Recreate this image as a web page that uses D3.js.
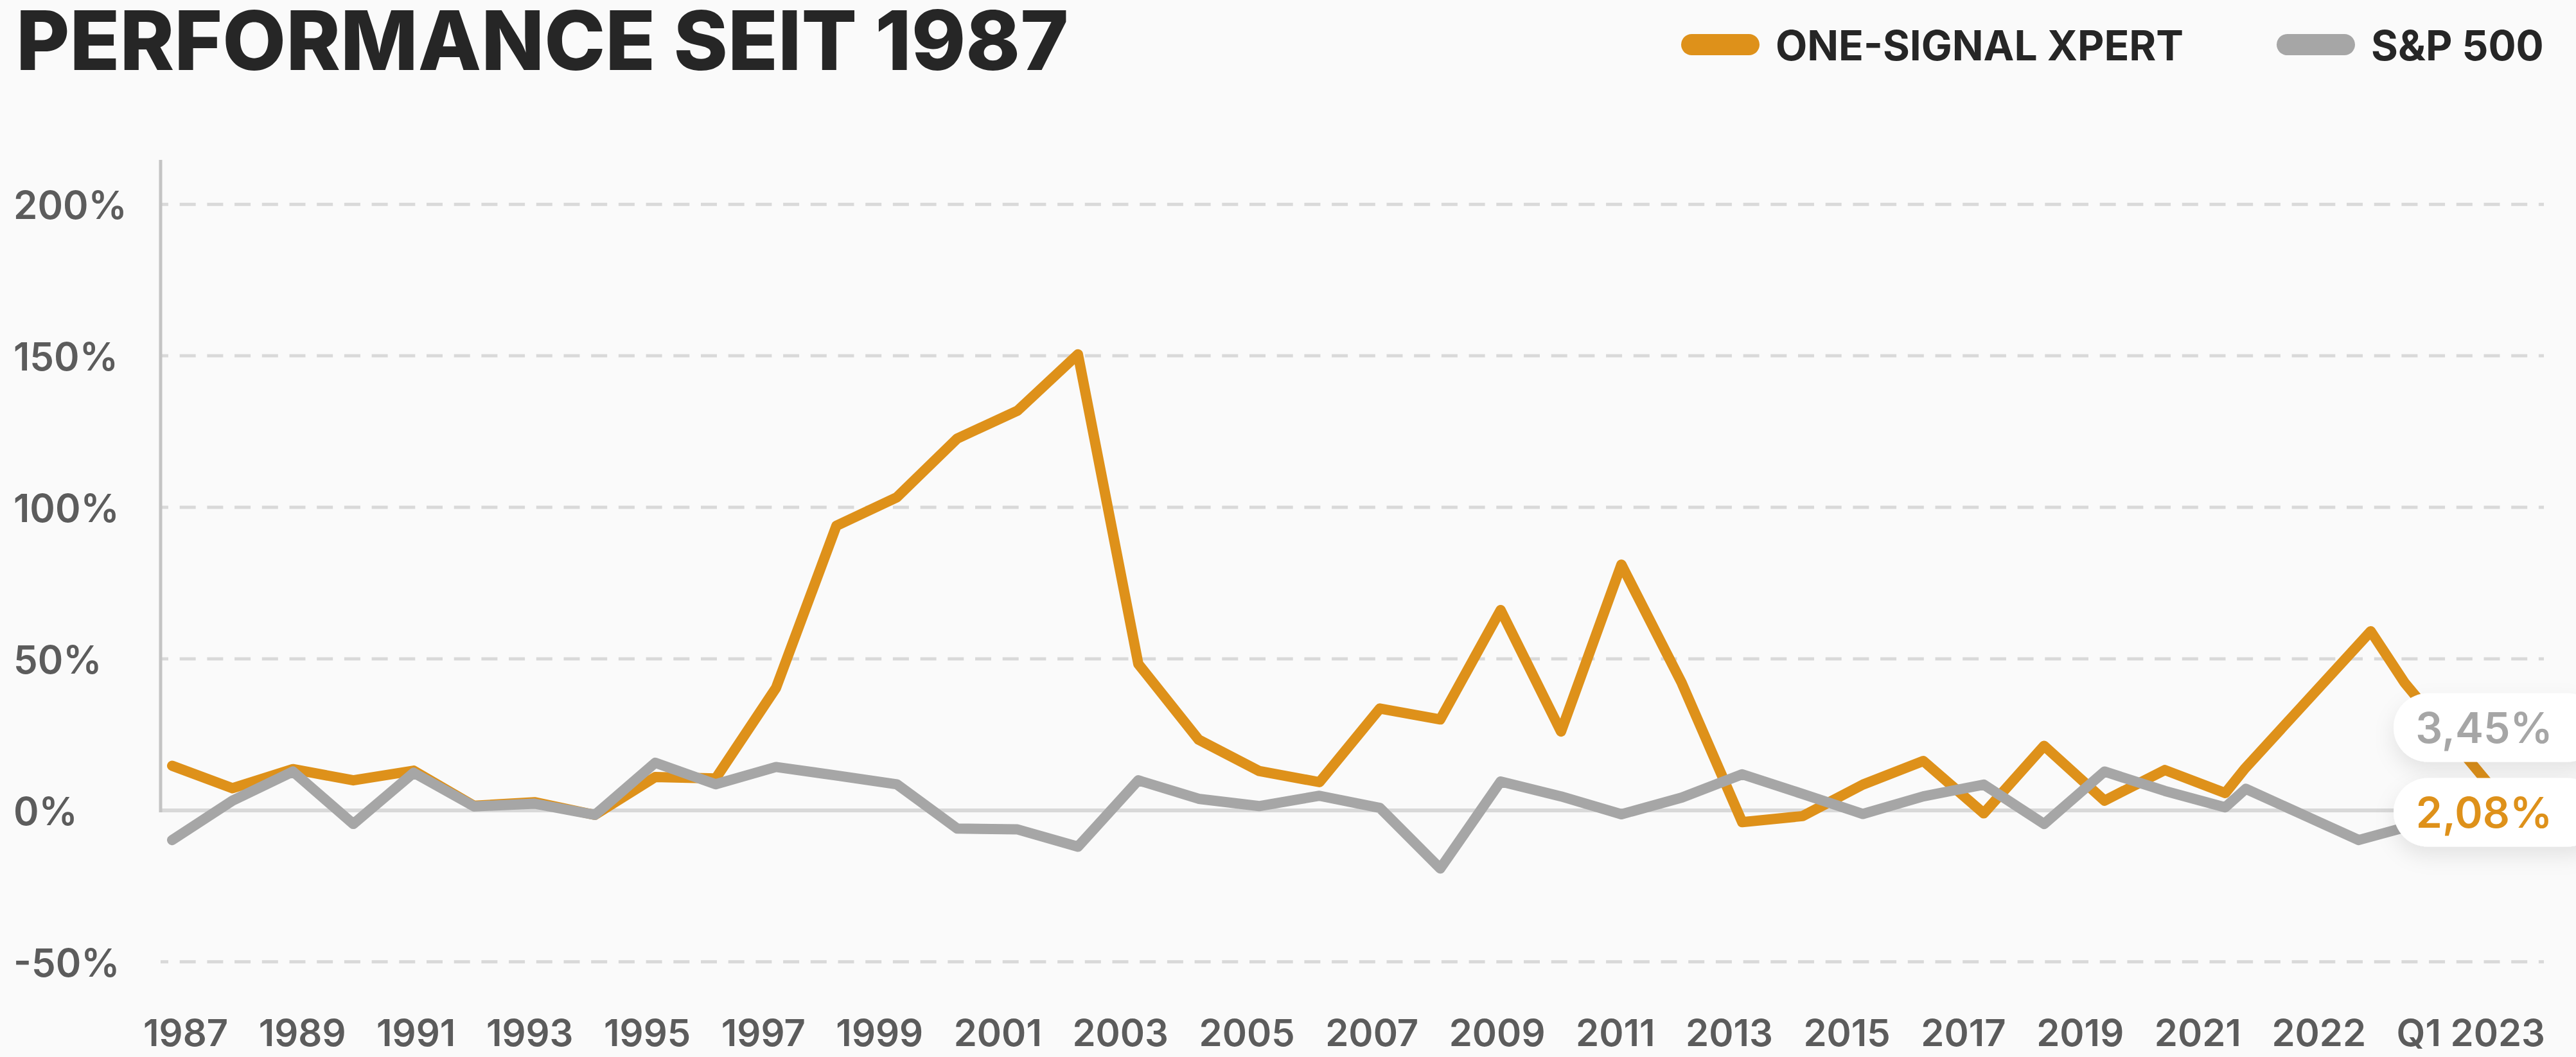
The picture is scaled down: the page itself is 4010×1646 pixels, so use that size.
<!DOCTYPE html>
<html>
<head>
<meta charset="utf-8">
<script src="https://cdn.jsdelivr.net/npm/d3@7"></script>
<style>
  html, body { margin: 0; padding: 0; background: #fafafa; }
  svg { display: block; font-family: Inter, "Noto Sans", sans-serif; }
</style>
</head>
<body>
<div id="vis"></div>
<script>
// chart data
const years = [1987, 1988, 1989, 1990, 1991, 1992, 1993, 1994, 1995, 1996,
  1997, 1998, 1999, 2000, 2001, 2002, 2003, 2004, 2005, 2006,
  2007, 2008, 2009, 2010, 2011, 2012, 2013, 2014, 2015, 2016,
  2017, 2018, 2019, 2020, 2021];

const xpert = [14.7, 7.3, 13.6, 9.9, 13.1, 1.5, 2.7, -1.5, 11.0, 10.5,
  40.4, 93.9, 103.3, 122.7, 131.9, 150.5, 48.3, 23.3, 13.0, 9.3,
  33.6, 30.0, 66.1, 26.0, 81.1, 42.0, -3.9, -1.9, 8.5, 16.3,
  -1.0, 21.3, 3.2, 13.3, 5.7];

const sp500 = [-9.8, 3.2, 12.8, -4.5, 12.4, 1.3, 2.2, -1.5, 15.7, 8.6,
  14.3, 11.5, 8.6, -6.0, -6.3, -12.0, 9.9, 3.8, 1.4, 4.8,
  0.8, -19.2, 9.5, 4.6, -1.3, 4.2, 11.9, 5.4, -1.2, 4.6,
  8.5, -4.5, 12.8, 6.4, 1.0];

// 2022 / Q1 2023 stretch (position counted in year steps after 1987)
const xpertTailPos = [34.33, 36.41, 36.97, 38.64];
const xpertTailVal = [13.9, 59.1, 42.1, 2.08];
const spTailPos = [34.34, 36.21, 38.64];
const spTailVal = [7.1, -9.8, 3.45];

const xLabels = ['1987', '1989', '1991', '1993', '1995', '1997', '1999', '2001',
  '2003', '2005', '2007', '2009', '2011', '2013', '2015', '2017', '2019',
  '2021', '2022', 'Q1 2023'];
const yTicks = [-50, 0, 50, 100, 150, 200];

const endLabels = ['3,45%', '2,08%'];
const seriesNames = ['ONE-SIGNAL XPERT', 'S&P 500'];

const width = 4010;
const height = 1646;
const orange = '#de911a';
const grey = '#a6a6a6';

const svg = d3.select('#vis').append('svg')
  .attr('width', width)
  .attr('height', height);

svg.append('rect').attr('width', width).attr('height', height).attr('fill', '#fafafa');

const defs = svg.append('defs');
defs.append('filter')
  .attr('id', 'shadow')
  .attr('x', '-30%').attr('y', '-40%').attr('width', '160%').attr('height', '200%')
  .append('feDropShadow')
  .attr('dx', 0).attr('dy', 14).attr('stdDeviation', 16)
  .attr('flood-color', '#000').attr('flood-opacity', 0.09);

// scales
let x = d3.scaleLinear().domain([0, years.length - 1]).range([268, 3464]);
let y = d3.scaleLinear().domain([-50, 200]).range([1497.8, 318.2]);

// title
svg.append('text')
  .attr('x', 25).attr('y', 109)
  .attr('font-size', 128).attr('font-weight', 800)
  .attr('fill', '#262626')
  .text('PERFORMANCE SEIT 1987');

// legend
let legend = svg.append('g');
[[2617, 2764, orange], [3544, 3691, grey]].forEach((d, i) => {
  legend.append('rect')
    .attr('x', d[0]).attr('y', 53).attr('width', 122).attr('height', 33)
    .attr('rx', 16.5).attr('fill', d[2]);
  legend.append('text')
    .attr('x', d[1]).attr('y', 94)
    .attr('font-size', 64).attr('font-weight', 700)
    .attr('fill', '#262626')
    .text(seriesNames[i]);
});

// grid lines
let grid = svg.append('g');
yTicks.forEach(t => {
  grid.append('line')
    .attr('x1', 250).attr('x2', 3960)
    .attr('y1', y(t)).attr('y2', y(t))
    .attr('stroke', '#d9d9d9')
    .attr('stroke-width', t === 0 ? 6 : 5)
    .attr('stroke-dasharray', t === 0 ? null : '25 17.7')
    .attr('stroke-dashoffset', t === 0 ? null : 13);
});

// y axis line
svg.append('line')
  .attr('x1', 250).attr('x2', 250)
  .attr('y1', 249).attr('y2', y(0) + 3)
  .attr('stroke', '#c4c4c4').attr('stroke-width', 5);

// y labels
svg.append('g').selectAll('text')
  .data(yTicks)
  .join('text')
  .attr('x', 21)
  .attr('y', d => y(d) + 23)
  .attr('font-size', 60).attr('font-weight', 600)
  .attr('fill', '#5c5c5c')
  .text(d => d + '%');

// x labels spread evenly between the two outer edges
let xl = svg.append('g').selectAll('text')
  .data(xLabels)
  .join('text')
  .attr('y', 1629)
  .attr('font-size', 58).attr('font-weight', 600)
  .attr('fill', '#5c5c5c')
  .text(d => d);

let widths = [];
xl.each(function () { widths.push(this.getComputedTextLength()); });
let left = 223, right = 3962;
let gap = (right - left - d3.sum(widths)) / (xLabels.length - 1);
let cursor = left;
xl.attr('x', (d, i) => {
  let pos = cursor;
  cursor += widths[i] + gap;
  return pos;
});

// lines
function points(vals, tailPos, tailVal) {
  let pts = vals.map((v, i) => [i, v]);
  tailPos.forEach((p, i) => pts.push([p, tailVal[i]]));
  return pts;
}

let line = d3.line()
  .x(d => x(d[0]))
  .y(d => y(d[1]));

svg.append('path')
  .datum(points(xpert, xpertTailPos, xpertTailVal))
  .attr('d', line)
  .attr('fill', 'none')
  .attr('stroke', orange).attr('stroke-width', 16)
  .attr('stroke-linejoin', 'round').attr('stroke-linecap', 'round');

svg.append('path')
  .datum(points(sp500, spTailPos, spTailVal))
  .attr('d', line)
  .attr('fill', 'none')
  .attr('stroke', grey).attr('stroke-width', 16)
  .attr('stroke-linejoin', 'round').attr('stroke-linecap', 'round');

// end value pills, the lower one sits on the orange end, the other is pushed above
let boxH = 107, boxW = 284, boxX = width - boxW;
let orangeC = y(xpertTailVal[xpertTailVal.length - 1]) + 13;
let greyC = Math.min(y(spTailVal[spTailVal.length - 1]), orangeC - boxH - 25);

[[greyC, grey, endLabels[0]], [orangeC, orange, endLabels[1]]].forEach(d => {
  let g = svg.append('g');
  g.append('rect')
    .attr('x', boxX).attr('y', d[0] - boxH / 2)
    .attr('width', boxW + 40).attr('height', boxH)
    .attr('rx', boxH / 2)
    .attr('fill', '#fff')
    .attr('filter', 'url(#shadow)');
  g.append('text')
    .attr('x', boxX + boxW / 2 - 1).attr('y', d[0] + 24)
    .attr('text-anchor', 'middle')
    .attr('font-size', 66).attr('font-weight', 600)
    .attr('fill', d[1])
    .text(d[2]);
});
</script>
</body>
</html>
